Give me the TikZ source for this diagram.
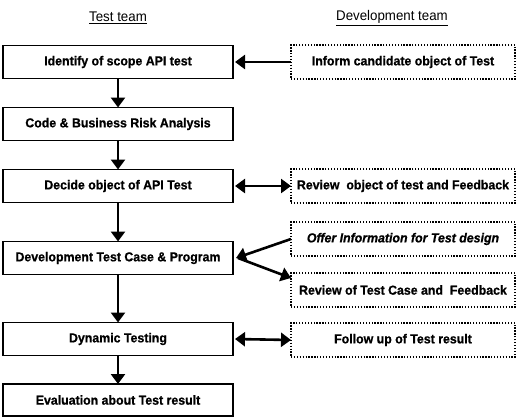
\documentclass[tikz,border=0pt]{standalone}
\usepackage{fontspec}
\setmainfont{Liberation Sans}[FakeStretch=0.95, BoldFeatures={FakeBold=0.8}, BoldItalicFeatures={FakeBold=0.8}]
\usetikzlibrary{arrows.meta}
\begin{document}
\begin{tikzpicture}[x=1pt,y=-1pt,
  every node/.style={inner sep=0pt, outer sep=0pt},
  lbox/.style={draw, line width=1.3pt, minimum width=230pt, minimum height=33pt,
    font=\fontsize{13}{15}\selectfont\bfseries},
  rbox/.style={draw, line width=1.3pt, dash pattern=on 1.3pt off 1.6pt,
    minimum width=224pt, minimum height=34pt,
    font=\fontsize{13}{15}\selectfont\bfseries},
  head/.style={font=\fontsize{14}{16}\selectfont},
  arr/.style={line width=2.6pt, -{Triangle[width=14pt,length=10pt]}},
  darr/.style={line width=2.6pt, {Triangle[width=14pt,length=10pt]}-{Triangle[width=14pt,length=10pt]}}
]
\useasboundingbox (0,0) rectangle (516,418);
\node[head] (h1) at (118,18) {\underline{Test team}};
\node[head] (h2) at (392,18) {\underline{Development team}};

\node[lbox] (b1) at (118,62)  {Identify of scope API test};
\node[lbox] (b2) at (118,124) {Code \& Business Risk Analysis};
\node[lbox] (b3) at (118,186) {Decide object of API Test};
\node[lbox] (b4) at (118,258) {Development Test Case \& Program};
\node[lbox] (b5) at (118,339) {Dynamic Testing};
\node[lbox, minimum height=32pt] (b6) at (118,400) {Evaluation about Test result};

\node[rbox] (r1) at (403,62)  {Inform candidate object of Test};
\node[rbox] (r2) at (403,186) {Review\ \ object of test and Feedback};
\node[rbox, font=\fontsize{13}{15}\selectfont\bfseries\itshape] (r3) at (403,239) {Offer Information for Test design};
\node[rbox] (r4) at (403,290) {Review of Test Case and\ \ Feedback};
\node[rbox] (r5) at (403,340) {Follow up of Test result};

\draw[arr] (b1) -- (b2);
\draw[arr] (b2) -- (b3);
\draw[arr] (b3) -- (b4);
\draw[arr] (b4) -- (b5);
\draw[arr] (b5) -- (b6);

\draw[arr] (r1.west) -- ([xshift=2pt]b1.east);
\draw[darr] ([xshift=2pt]b3.east) -- (r2.west);
\draw[arr] (r3.west) -- ([xshift=3pt]b4.east);
\draw[arr] ([xshift=5pt]b4.east) -- ([yshift=12pt]r4.west);
\draw[darr] ([xshift=2pt]b5.east) -- (r5.west);
\end{tikzpicture}
\end{document}
